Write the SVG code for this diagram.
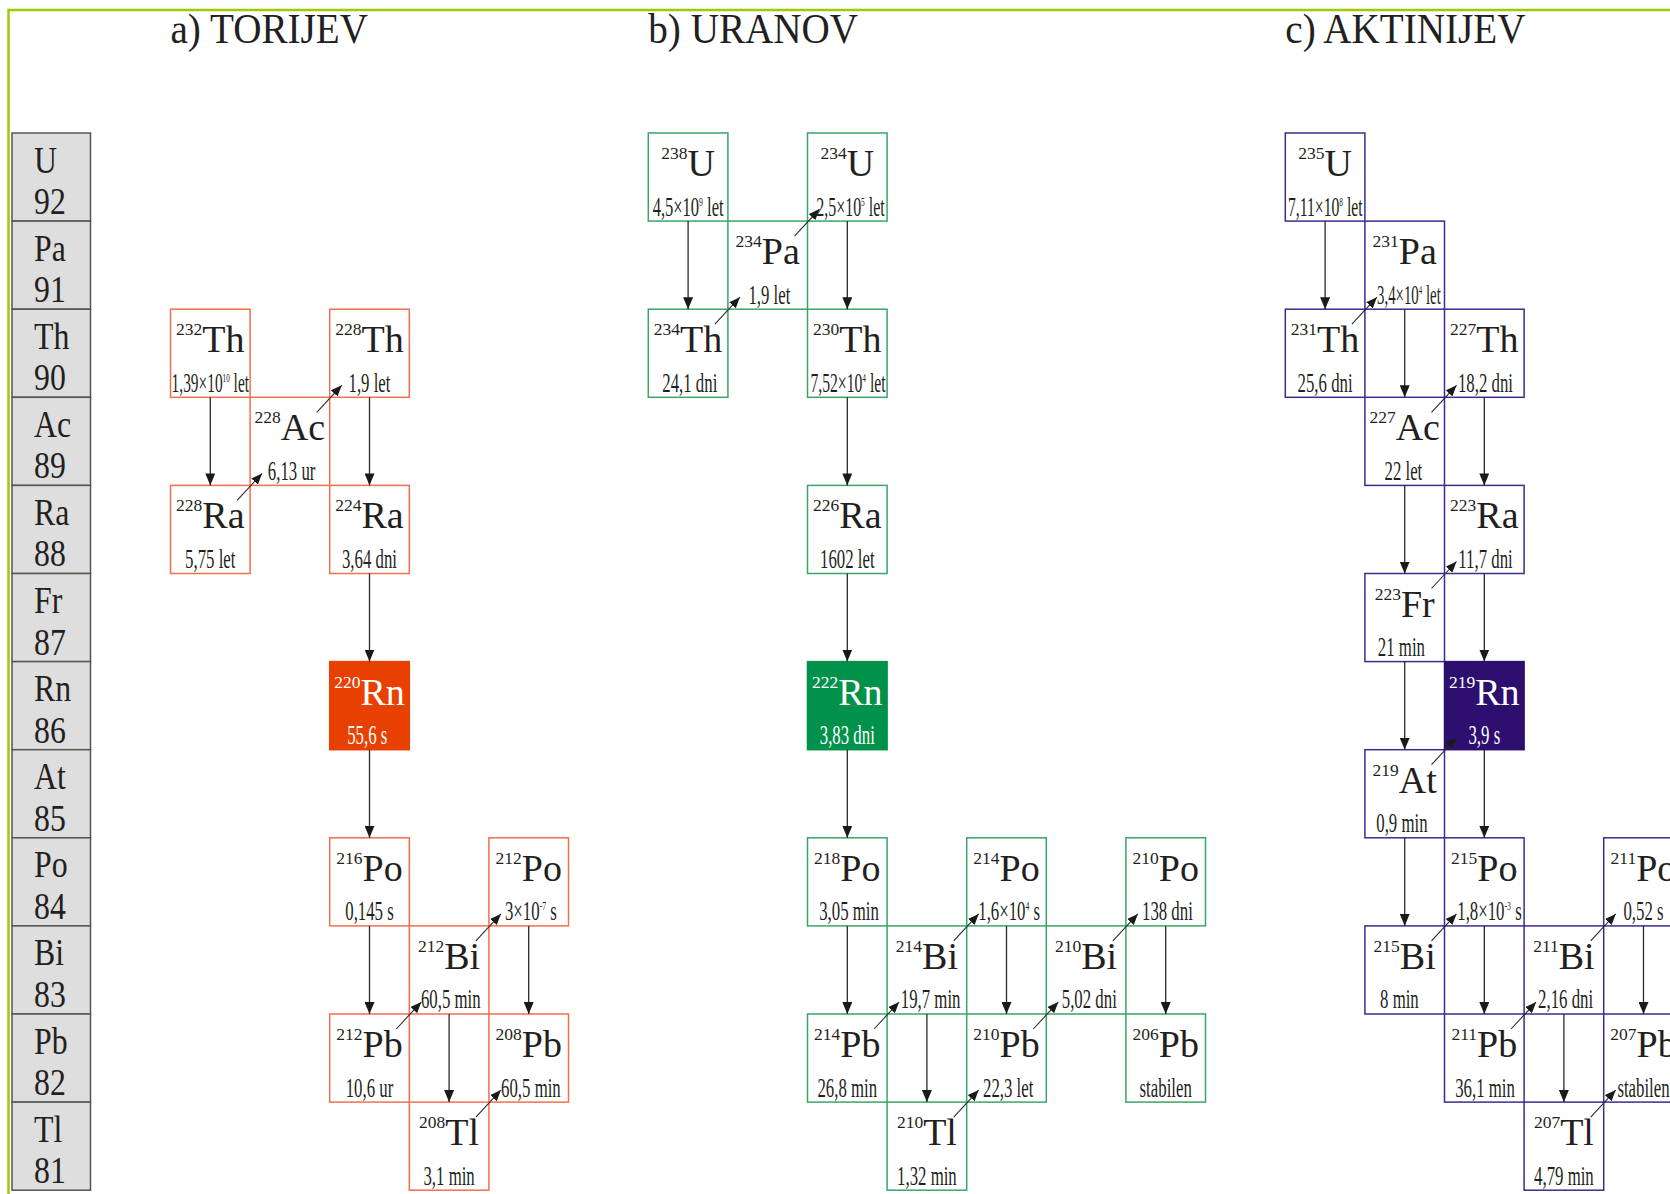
<svg xmlns="http://www.w3.org/2000/svg" width="1670" height="1194" viewBox="0 0 1670 1194">
  <defs>
    <style>
      text { font-family: "Liberation Serif", "Times New Roman", serif; fill: #231f20; }
      .frame { fill: none; stroke: #9ccc00; stroke-width: 2.5; }
      .ttl { font-size: 43px; }
      .cell rect { fill: #dedede; stroke: #555; stroke-width: 1.5; }
      .cl { font-size: 37px; }
      .sym { font-size: 38px; text-anchor: middle; }
      .ms { font-size: 17.5px; }
      .hl { font-size: 28px; text-anchor: middle; }
      .ex { font-size: 13px; }
      .node rect { fill: none; stroke-width: 1.5; }
      #chain-a .node rect { stroke: #f07050; }
      #chain-b .node rect { stroke: #3aa567; }
      #chain-c .node rect { stroke: #3d2b8e; }
      #chain-a .hot rect { fill: #e84000; stroke: #e84000; }
      #chain-b .hot rect { fill: #00914a; stroke: #00914a; }
      #chain-c .hot rect { fill: #2c0f6e; stroke: #2c0f6e; }
      .hot text { fill: #fff; }
      .alpha line { stroke: #2a2a2a; stroke-width: 1.3; marker-end: url(#ah); }
      .beta line { stroke: #2a2a2a; stroke-width: 1.1; marker-end: url(#ahs); }
    </style>
    <marker id="ah" viewBox="0 0 12 10" refX="12" refY="5" markerWidth="12" markerHeight="10" markerUnits="userSpaceOnUse" orient="auto">
      <path d="M0,0 L12,5 L0,10 z" fill="#1a1a1a"/>
    </marker>
    <marker id="ahs" viewBox="0 0 11 9" refX="11" refY="4.5" markerWidth="11" markerHeight="9" markerUnits="userSpaceOnUse" orient="auto">
      <path d="M0,0 L11,4.5 L0,9 z" fill="#1a1a1a"/>
    </marker>
  </defs>

  <rect width="1670" height="1194" fill="#fff"/>
  <path class="frame" d="M8.5,1194 V10 H1670"/>

  <!-- series titles -->
  <text class="ttl" transform="translate(170.5,42.7) scale(0.91,1)">a) TORIJEV</text>
  <text class="ttl" transform="translate(648.3,42.7) scale(0.91,1)">b) URANOV</text>
  <text class="ttl" transform="translate(1285.3,42.7) scale(0.91,1)">c) AKTINIJEV</text>

  <!-- element column, Z = 92 ... 81 -->
  <g id="elements">
    <g id="el-u" class="cell" transform="translate(12,133)"><rect width="78.5" height="88.1"/><text class="cl" transform="translate(22,39.5) scale(0.86,1)">U</text><text class="cl" transform="translate(22,81) scale(0.86,1)">92</text></g>
    <g id="el-pa" class="cell" transform="translate(12,221.1)"><rect width="78.5" height="88.1"/><text class="cl" transform="translate(22,39.5) scale(0.86,1)">Pa</text><text class="cl" transform="translate(22,81) scale(0.86,1)">91</text></g>
    <g id="el-th" class="cell" transform="translate(12,309.2)"><rect width="78.5" height="88.1"/><text class="cl" transform="translate(22,39.5) scale(0.86,1)">Th</text><text class="cl" transform="translate(22,81) scale(0.86,1)">90</text></g>
    <g id="el-ac" class="cell" transform="translate(12,397.3)"><rect width="78.5" height="88.1"/><text class="cl" transform="translate(22,39.5) scale(0.86,1)">Ac</text><text class="cl" transform="translate(22,81) scale(0.86,1)">89</text></g>
    <g id="el-ra" class="cell" transform="translate(12,485.4)"><rect width="78.5" height="88.1"/><text class="cl" transform="translate(22,39.5) scale(0.86,1)">Ra</text><text class="cl" transform="translate(22,81) scale(0.86,1)">88</text></g>
    <g id="el-fr" class="cell" transform="translate(12,573.5)"><rect width="78.5" height="88.1"/><text class="cl" transform="translate(22,39.5) scale(0.86,1)">Fr</text><text class="cl" transform="translate(22,81) scale(0.86,1)">87</text></g>
    <g id="el-rn" class="cell" transform="translate(12,661.6)"><rect width="78.5" height="88.1"/><text class="cl" transform="translate(22,39.5) scale(0.86,1)">Rn</text><text class="cl" transform="translate(22,81) scale(0.86,1)">86</text></g>
    <g id="el-at" class="cell" transform="translate(12,749.7)"><rect width="78.5" height="88.1"/><text class="cl" transform="translate(22,39.5) scale(0.86,1)">At</text><text class="cl" transform="translate(22,81) scale(0.86,1)">85</text></g>
    <g id="el-po" class="cell" transform="translate(12,837.8)"><rect width="78.5" height="88.1"/><text class="cl" transform="translate(22,39.5) scale(0.86,1)">Po</text><text class="cl" transform="translate(22,81) scale(0.86,1)">84</text></g>
    <g id="el-bi" class="cell" transform="translate(12,925.9)"><rect width="78.5" height="88.1"/><text class="cl" transform="translate(22,39.5) scale(0.86,1)">Bi</text><text class="cl" transform="translate(22,81) scale(0.86,1)">83</text></g>
    <g id="el-pb" class="cell" transform="translate(12,1014)"><rect width="78.5" height="88.1"/><text class="cl" transform="translate(22,39.5) scale(0.86,1)">Pb</text><text class="cl" transform="translate(22,81) scale(0.86,1)">82</text></g>
    <g id="el-tl" class="cell" transform="translate(12,1102.1)"><rect width="78.5" height="88.1"/><text class="cl" transform="translate(22,39.5) scale(0.86,1)">Tl</text><text class="cl" transform="translate(22,81) scale(0.86,1)">81</text></g>
  </g>

  <!-- a) thorium series -->
  <g id="chain-a">
    <g id="th232" class="node" transform="translate(170.5,309.2)"><rect width="79.6" height="88.1"/><text class="sym" x="39.8" y="43"><tspan class="ms" dy="-17">232</tspan><tspan dy="17">Th</tspan></text><text class="hl" transform="translate(39.8,82.5) scale(0.55,1)">1,39×10<tspan class="ex" dy="-10">10</tspan><tspan dy="10"> let</tspan></text></g>
    <g id="ra228" class="node" transform="translate(170.5,485.4)"><rect width="79.6" height="88.1"/><text class="sym" x="39.8" y="43"><tspan class="ms" dy="-17">228</tspan><tspan dy="17">Ra</tspan></text><text class="hl" transform="translate(39.8,82.5) scale(0.6,1)">5,75 let</text></g>
    <g id="ac228" class="node" transform="translate(250.1,397.3)"><rect width="79.6" height="88.1"/><text class="sym" x="39.8" y="43"><tspan class="ms" dy="-17">228</tspan><tspan dy="17">Ac</tspan></text><text class="hl" transform="translate(41.5,82.5) scale(0.6,1)">6,13 ur</text></g>
    <g id="th228" class="node" transform="translate(329.7,309.2)"><rect width="79.6" height="88.1"/><text class="sym" x="39.8" y="43"><tspan class="ms" dy="-17">228</tspan><tspan dy="17">Th</tspan></text><text class="hl" transform="translate(39.8,82.5) scale(0.6,1)">1,9 let</text></g>
    <g id="ra224" class="node" transform="translate(329.7,485.4)"><rect width="79.6" height="88.1"/><text class="sym" x="39.8" y="43"><tspan class="ms" dy="-17">224</tspan><tspan dy="17">Ra</tspan></text><text class="hl" transform="translate(39.8,82.5) scale(0.6,1)">3,64 dni</text></g>
    <g id="rn220" class="node hot" transform="translate(329.7,661.6)"><rect width="79.6" height="88.1"/><text class="sym" x="39.8" y="43"><tspan class="ms" dy="-17">220</tspan><tspan dy="17">Rn</tspan></text><text class="hl" transform="translate(37.5,82.5) scale(0.6,1)">55,6 s</text></g>
    <g id="po216" class="node" transform="translate(329.7,837.8)"><rect width="79.6" height="88.1"/><text class="sym" x="39.8" y="43"><tspan class="ms" dy="-17">216</tspan><tspan dy="17">Po</tspan></text><text class="hl" transform="translate(39.8,82.5) scale(0.6,1)">0,145 s</text></g>
    <g id="pb212" class="node" transform="translate(329.7,1014)"><rect width="79.6" height="88.1"/><text class="sym" x="39.8" y="43"><tspan class="ms" dy="-17">212</tspan><tspan dy="17">Pb</tspan></text><text class="hl" transform="translate(39.8,82.5) scale(0.6,1)">10,6 ur</text></g>
    <g id="bi212" class="node" transform="translate(409.3,925.9)"><rect width="79.6" height="88.1"/><text class="sym" x="39.8" y="43"><tspan class="ms" dy="-17">212</tspan><tspan dy="17">Bi</tspan></text><text class="hl" transform="translate(41.5,82.5) scale(0.6,1)">60,5 min</text></g>
    <g id="po212" class="node" transform="translate(488.9,837.8)"><rect width="79.6" height="88.1"/><text class="sym" x="39.8" y="43"><tspan class="ms" dy="-17">212</tspan><tspan dy="17">Po</tspan></text><text class="hl" transform="translate(42,82.5) scale(0.6,1)">3×10<tspan class="ex" dy="-10">-7</tspan><tspan dy="10"> s</tspan></text></g>
    <g id="tl208" class="node" transform="translate(409.3,1102.1)"><rect width="79.6" height="88.1"/><text class="sym" x="39.8" y="43"><tspan class="ms" dy="-17">208</tspan><tspan dy="17">Tl</tspan></text><text class="hl" transform="translate(39.8,82.5) scale(0.6,1)">3,1 min</text></g>
    <g id="pb208" class="node" transform="translate(488.9,1014)"><rect width="79.6" height="88.1"/><text class="sym" x="39.8" y="43"><tspan class="ms" dy="-17">208</tspan><tspan dy="17">Pb</tspan></text><text class="hl" transform="translate(42,82.5) scale(0.6,1)">60,5 min</text></g>
  </g>

  <!-- b) uranium series -->
  <g id="chain-b">
    <g id="u238" class="node" transform="translate(648.3,133)"><rect width="79.6" height="88.1"/><text class="sym" x="39.8" y="43"><tspan class="ms" dy="-17">238</tspan><tspan dy="17">U</tspan></text><text class="hl" transform="translate(39.8,82.5) scale(0.59,1)">4,5×10<tspan class="ex" dy="-10">9</tspan><tspan dy="10"> let</tspan></text></g>
    <g id="th234" class="node" transform="translate(648.3,309.2)"><rect width="79.6" height="88.1"/><text class="sym" x="39.8" y="43"><tspan class="ms" dy="-17">234</tspan><tspan dy="17">Th</tspan></text><text class="hl" transform="translate(41.5,82.5) scale(0.6,1)">24,1 dni</text></g>
    <g id="pa234" class="node" transform="translate(727.9,221.1)"><rect width="79.6" height="88.1"/><text class="sym" x="39.8" y="43"><tspan class="ms" dy="-17">234</tspan><tspan dy="17">Pa</tspan></text><text class="hl" transform="translate(41.5,82.5) scale(0.6,1)">1,9 let</text></g>
    <g id="u234" class="node" transform="translate(807.5,133)"><rect width="79.6" height="88.1"/><text class="sym" x="39.8" y="43"><tspan class="ms" dy="-17">234</tspan><tspan dy="17">U</tspan></text><text class="hl" transform="translate(43,82.5) scale(0.57,1)">2,5×10<tspan class="ex" dy="-10">5</tspan><tspan dy="10"> let</tspan></text></g>
    <g id="th230" class="node" transform="translate(807.5,309.2)"><rect width="79.6" height="88.1"/><text class="sym" x="39.8" y="43"><tspan class="ms" dy="-17">230</tspan><tspan dy="17">Th</tspan></text><text class="hl" transform="translate(40.5,82.5) scale(0.56,1)">7,52×10<tspan class="ex" dy="-10">4</tspan><tspan dy="10"> let</tspan></text></g>
    <g id="ra226" class="node" transform="translate(807.5,485.4)"><rect width="79.6" height="88.1"/><text class="sym" x="39.8" y="43"><tspan class="ms" dy="-17">226</tspan><tspan dy="17">Ra</tspan></text><text class="hl" transform="translate(39.8,82.5) scale(0.6,1)">1602 let</text></g>
    <g id="rn222" class="node hot" transform="translate(807.5,661.6)"><rect width="79.6" height="88.1"/><text class="sym" x="39.8" y="43"><tspan class="ms" dy="-17">222</tspan><tspan dy="17">Rn</tspan></text><text class="hl" transform="translate(39.8,82.5) scale(0.6,1)">3,83 dni</text></g>
    <g id="po218" class="node" transform="translate(807.5,837.8)"><rect width="79.6" height="88.1"/><text class="sym" x="39.8" y="43"><tspan class="ms" dy="-17">218</tspan><tspan dy="17">Po</tspan></text><text class="hl" transform="translate(41.5,82.5) scale(0.6,1)">3,05 min</text></g>
    <g id="pb214" class="node" transform="translate(807.5,1014)"><rect width="79.6" height="88.1"/><text class="sym" x="39.8" y="43"><tspan class="ms" dy="-17">214</tspan><tspan dy="17">Pb</tspan></text><text class="hl" transform="translate(39.8,82.5) scale(0.6,1)">26,8 min</text></g>
    <g id="bi214" class="node" transform="translate(887.1,925.9)"><rect width="79.6" height="88.1"/><text class="sym" x="39.8" y="43"><tspan class="ms" dy="-17">214</tspan><tspan dy="17">Bi</tspan></text><text class="hl" transform="translate(43.5,82.5) scale(0.6,1)">19,7 min</text></g>
    <g id="po214" class="node" transform="translate(966.7,837.8)"><rect width="79.6" height="88.1"/><text class="sym" x="39.8" y="43"><tspan class="ms" dy="-17">214</tspan><tspan dy="17">Po</tspan></text><text class="hl" transform="translate(42.5,82.5) scale(0.6,1)">1,6×10<tspan class="ex" dy="-10">4</tspan><tspan dy="10"> s</tspan></text></g>
    <g id="tl210" class="node" transform="translate(887.1,1102.1)"><rect width="79.6" height="88.1"/><text class="sym" x="39.8" y="43"><tspan class="ms" dy="-17">210</tspan><tspan dy="17">Tl</tspan></text><text class="hl" transform="translate(39.8,82.5) scale(0.6,1)">1,32 min</text></g>
    <g id="pb210" class="node" transform="translate(966.7,1014)"><rect width="79.6" height="88.1"/><text class="sym" x="39.8" y="43"><tspan class="ms" dy="-17">210</tspan><tspan dy="17">Pb</tspan></text><text class="hl" transform="translate(41.5,82.5) scale(0.6,1)">22,3 let</text></g>
    <g id="bi210" class="node" transform="translate(1046.3,925.9)"><rect width="79.6" height="88.1"/><text class="sym" x="39.8" y="43"><tspan class="ms" dy="-17">210</tspan><tspan dy="17">Bi</tspan></text><text class="hl" transform="translate(43,82.5) scale(0.6,1)">5,02 dni</text></g>
    <g id="po210" class="node" transform="translate(1125.9,837.8)"><rect width="79.6" height="88.1"/><text class="sym" x="39.8" y="43"><tspan class="ms" dy="-17">210</tspan><tspan dy="17">Po</tspan></text><text class="hl" transform="translate(41.5,82.5) scale(0.6,1)">138 dni</text></g>
    <g id="pb206" class="node" transform="translate(1125.9,1014)"><rect width="79.6" height="88.1"/><text class="sym" x="39.8" y="43"><tspan class="ms" dy="-17">206</tspan><tspan dy="17">Pb</tspan></text><text class="hl" transform="translate(39.8,82.5) scale(0.6,1)">stabilen</text></g>
  </g>

  <!-- c) actinium series -->
  <g id="chain-c">
    <g id="u235" class="node" transform="translate(1285.3,133)"><rect width="79.6" height="88.1"/><text class="sym" x="39.8" y="43"><tspan class="ms" dy="-17">235</tspan><tspan dy="17">U</tspan></text><text class="hl" transform="translate(40,82.5) scale(0.56,1)">7,11×10<tspan class="ex" dy="-10">8</tspan><tspan dy="10"> let</tspan></text></g>
    <g id="th231" class="node" transform="translate(1285.3,309.2)"><rect width="79.6" height="88.1"/><text class="sym" x="39.8" y="43"><tspan class="ms" dy="-17">231</tspan><tspan dy="17">Th</tspan></text><text class="hl" transform="translate(39.8,82.5) scale(0.6,1)">25,6 dni</text></g>
    <g id="pa231" class="node" transform="translate(1364.9,221.1)"><rect width="79.6" height="88.1"/><text class="sym" x="39.8" y="43"><tspan class="ms" dy="-17">231</tspan><tspan dy="17">Pa</tspan></text><text class="hl" transform="translate(44,82.5) scale(0.53,1)">3,4×10<tspan class="ex" dy="-10">4</tspan><tspan dy="10"> let</tspan></text></g>
    <g id="ac227" class="node" transform="translate(1364.9,397.3)"><rect width="79.6" height="88.1"/><text class="sym" x="39.8" y="43"><tspan class="ms" dy="-17">227</tspan><tspan dy="17">Ac</tspan></text><text class="hl" transform="translate(38.5,82.5) scale(0.6,1)">22 let</text></g>
    <g id="th227" class="node" transform="translate(1444.5,309.2)"><rect width="79.6" height="88.1"/><text class="sym" x="39.8" y="43"><tspan class="ms" dy="-17">227</tspan><tspan dy="17">Th</tspan></text><text class="hl" transform="translate(41,82.5) scale(0.6,1)">18,2 dni</text></g>
    <g id="fr223" class="node" transform="translate(1364.9,573.5)"><rect width="79.6" height="88.1"/><text class="sym" x="39.8" y="43"><tspan class="ms" dy="-17">223</tspan><tspan dy="17">Fr</tspan></text><text class="hl" transform="translate(36.5,82.5) scale(0.6,1)">21 min</text></g>
    <g id="ra223" class="node" transform="translate(1444.5,485.4)"><rect width="79.6" height="88.1"/><text class="sym" x="39.8" y="43"><tspan class="ms" dy="-17">223</tspan><tspan dy="17">Ra</tspan></text><text class="hl" transform="translate(41,82.5) scale(0.6,1)">11,7 dni</text></g>
    <g id="at219" class="node" transform="translate(1364.9,749.7)"><rect width="79.6" height="88.1"/><text class="sym" x="39.8" y="43"><tspan class="ms" dy="-17">219</tspan><tspan dy="17">At</tspan></text><text class="hl" transform="translate(37,82.5) scale(0.6,1)">0,9 min</text></g>
    <g id="rn219" class="node hot" transform="translate(1444.5,661.6)"><rect width="79.6" height="88.1"/><text class="sym" x="39.8" y="43"><tspan class="ms" dy="-17">219</tspan><tspan dy="17">Rn</tspan></text><text class="hl" transform="translate(39.8,82.5) scale(0.6,1)">3,9 s</text></g>
    <g id="bi215" class="node" transform="translate(1364.9,925.9)"><rect width="79.6" height="88.1"/><text class="sym" x="39.8" y="43"><tspan class="ms" dy="-17">215</tspan><tspan dy="17">Bi</tspan></text><text class="hl" transform="translate(34.5,82.5) scale(0.6,1)">8 min</text></g>
    <g id="po215" class="node" transform="translate(1444.5,837.8)"><rect width="79.6" height="88.1"/><text class="sym" x="39.8" y="43"><tspan class="ms" dy="-17">215</tspan><tspan dy="17">Po</tspan></text><text class="hl" transform="translate(45,82.5) scale(0.6,1)">1,8×10<tspan class="ex" dy="-10">-3</tspan><tspan dy="10"> s</tspan></text></g>
    <g id="pb211" class="node" transform="translate(1444.5,1014)"><rect width="79.6" height="88.1"/><text class="sym" x="39.8" y="43"><tspan class="ms" dy="-17">211</tspan><tspan dy="17">Pb</tspan></text><text class="hl" transform="translate(40.5,82.5) scale(0.6,1)">36,1 min</text></g>
    <g id="bi211" class="node" transform="translate(1524.1,925.9)"><rect width="79.6" height="88.1"/><text class="sym" x="39.8" y="43"><tspan class="ms" dy="-17">211</tspan><tspan dy="17">Bi</tspan></text><text class="hl" transform="translate(41.5,82.5) scale(0.6,1)">2,16 dni</text></g>
    <g id="tl207" class="node" transform="translate(1524.1,1102.1)"><rect width="79.6" height="88.1"/><text class="sym" x="39.8" y="43"><tspan class="ms" dy="-17">207</tspan><tspan dy="17">Tl</tspan></text><text class="hl" transform="translate(39.8,82.5) scale(0.6,1)">4,79 min</text></g>
    <g id="po211" class="node" transform="translate(1603.7,837.8)"><rect width="79.6" height="88.1"/><text class="sym" x="39.8" y="43"><tspan class="ms" dy="-17">211</tspan><tspan dy="17">Po</tspan></text><text class="hl" transform="translate(39.8,82.5) scale(0.6,1)">0,52 s</text></g>
    <g id="pb207" class="node" transform="translate(1603.7,1014)"><rect width="79.6" height="88.1"/><text class="sym" x="39.8" y="43"><tspan class="ms" dy="-17">207</tspan><tspan dy="17">Pb</tspan></text><text class="hl" transform="translate(39.8,82.5) scale(0.6,1)">stabilen</text></g>
  </g>

  <!-- decay arrows: alpha = straight down two rows, beta = up-right one column -->
  <g id="connectors">
    <g class="alpha">
      <line x1="210.3" y1="397.3" x2="210.3" y2="485.4"/>
      <line x1="369.5" y1="397.3" x2="369.5" y2="485.4"/>
      <line x1="369.5" y1="573.5" x2="369.5" y2="661.6"/>
      <line x1="369.5" y1="749.7" x2="369.5" y2="837.8"/>
      <line x1="369.5" y1="925.9" x2="369.5" y2="1014"/>
      <line x1="449.1" y1="1014" x2="449.1" y2="1102.1"/>
      <line x1="528.7" y1="925.9" x2="528.7" y2="1014"/>

      <line x1="688.1" y1="221.1" x2="688.1" y2="309.2"/>
      <line x1="847.3" y1="221.1" x2="847.3" y2="309.2"/>
      <line x1="847.3" y1="397.3" x2="847.3" y2="485.4"/>
      <line x1="847.3" y1="573.5" x2="847.3" y2="661.6"/>
      <line x1="847.3" y1="749.7" x2="847.3" y2="837.8"/>
      <line x1="847.3" y1="925.9" x2="847.3" y2="1014"/>
      <line x1="926.9" y1="1014" x2="926.9" y2="1102.1"/>
      <line x1="1006.5" y1="925.9" x2="1006.5" y2="1014"/>
      <line x1="1165.7" y1="925.9" x2="1165.7" y2="1014"/>

      <line x1="1325.1" y1="221.1" x2="1325.1" y2="309.2"/>
      <line x1="1404.7" y1="309.2" x2="1404.7" y2="397.3"/>
      <line x1="1404.7" y1="485.4" x2="1404.7" y2="573.5"/>
      <line x1="1404.7" y1="661.6" x2="1404.7" y2="749.7"/>
      <line x1="1404.7" y1="837.8" x2="1404.7" y2="925.9"/>
      <line x1="1484.3" y1="397.3" x2="1484.3" y2="485.4"/>
      <line x1="1484.3" y1="573.5" x2="1484.3" y2="661.6"/>
      <line x1="1484.3" y1="749.7" x2="1484.3" y2="837.8"/>
      <line x1="1484.3" y1="925.9" x2="1484.3" y2="1014"/>
      <line x1="1563.9" y1="1014" x2="1563.9" y2="1102.1"/>
      <line x1="1643.5" y1="925.9" x2="1643.5" y2="1014"/>
    </g>
    <g class="beta">
      <line x1="237.1" y1="500.4" x2="262.1" y2="473.4"/>
      <line x1="316.7" y1="412.3" x2="341.7" y2="385.3"/>
      <line x1="396.3" y1="1029" x2="421.3" y2="1002"/>
      <line x1="475.9" y1="940.9" x2="500.9" y2="913.9"/>
      <line x1="475.9" y1="1117.1" x2="500.9" y2="1090.1"/>

      <line x1="714.9" y1="324.2" x2="739.9" y2="297.2"/>
      <line x1="794.5" y1="236.1" x2="819.5" y2="209.1"/>
      <line x1="874.1" y1="1029" x2="899.1" y2="1002"/>
      <line x1="953.7" y1="940.9" x2="978.7" y2="913.9"/>
      <line x1="953.7" y1="1117.1" x2="978.7" y2="1090.1"/>
      <line x1="1033.3" y1="1029" x2="1058.3" y2="1002"/>
      <line x1="1112.9" y1="940.9" x2="1137.9" y2="913.9"/>

      <line x1="1351.9" y1="324.2" x2="1376.9" y2="297.2"/>
      <line x1="1431.5" y1="412.3" x2="1456.5" y2="385.3"/>
      <line x1="1431.5" y1="588.5" x2="1456.5" y2="561.5"/>
      <line x1="1431.5" y1="764.7" x2="1456.5" y2="737.7"/>
      <line x1="1431.5" y1="940.9" x2="1456.5" y2="913.9"/>
      <line x1="1511.1" y1="1029" x2="1536.1" y2="1002"/>
      <line x1="1590.7" y1="940.9" x2="1615.7" y2="913.9"/>
      <line x1="1590.7" y1="1117.1" x2="1615.7" y2="1090.1"/>
    </g>
  </g>
</svg>
